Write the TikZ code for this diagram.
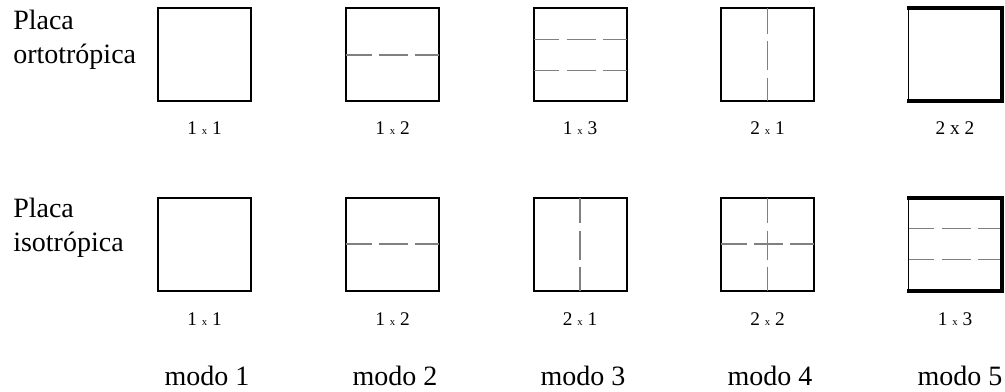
\documentclass[tikz,border=0pt]{standalone}
\usepackage{fontspec}
\setmainfont{Liberation Serif}
\usetikzlibrary{calc}
\newcommand{\xpor}{{\fontsize{8}{8}\selectfont x}}

\begin{document}
\begin{tikzpicture}[x=0.75pt, y=-0.75pt,
  placa/.style = {rectangle, draw=black, line width=1.5pt, minimum size=69.75pt,
                  inner sep=0pt, outer sep=0pt},
  borde/.style = {line width=3pt, line cap=rect},
  nodal/.style = {draw=gray, line width=0.9pt,
                  dash pattern=on 21.75pt off 5.6pt, dash phase=2.6pt},
  etiq/.style  = {font=\fontsize{14.5}{16}\selectfont, anchor=base, inner sep=0pt},
  modo/.style  = {font=\fontsize{21}{25}\selectfont, anchor=base, inner sep=0pt},
  tipo/.style  = {font=\fontsize{21}{25.5}\selectfont, align=left,
                  anchor=north west, inner sep=0pt},
]
\useasboundingbox (0,0) rectangle (1005,392);

% ── Tipo de placa ────────────────────────────────────────────
\node[tipo] (orto) at (13,10)  {Placa\\ortotrópica};
\node[tipo] (iso)  at (13,198) {Placa\\isotrópica};

% ── Placa ortotrópica ────────────────────────────────────────
\node[placa] (o1) at (204.5,55) {};
\node[placa] (o2) at (392.5,55) {};
\node[placa] (o3) at (580,55)   {};
\node[placa] (o4) at (767.5,55) {};
\node[placa,line width=1pt] (o5) at (955,55) {};

\draw[nodal] (o2.west) -- (o2.east);
\draw[nodal] ($(o3.north west)!1/3!(o3.south west)$) -- ($(o3.north east)!1/3!(o3.south east)$);
\draw[nodal] ($(o3.north west)!2/3!(o3.south west)$) -- ($(o3.north east)!2/3!(o3.south east)$);
\draw[nodal] (o4.north) -- (o4.south);
\draw[borde] (o5.north west) -- (o5.north east) -- (o5.south east) -- (o5.south west);

\node[etiq] (eo1) at (204.5,135) {1 \xpor{} 1};
\node[etiq] (eo2) at (392.5,135) {1 \xpor{} 2};
\node[etiq] (eo3) at (580,135)   {1 \xpor{} 3};
\node[etiq] (eo4) at (767.5,135) {2 \xpor{} 1};
\node[etiq] (eo5) at (955,135)   {2 x 2};

% ── Placa isotrópica ─────────────────────────────────────────
\node[placa] (i1) at (204.5,244) {};
\node[placa] (i2) at (392.5,244) {};
\node[placa] (i3) at (580,244)   {};
\node[placa] (i4) at (767.5,244) {};
\node[placa,line width=1pt] (i5) at (955,244) {};

\draw[nodal] (i2.west) -- (i2.east);
\draw[nodal] (i3.north) -- (i3.south);
\draw[nodal] (i4.north) -- (i4.south);
\draw[nodal] (i4.west) -- (i4.east);
\draw[nodal] ($(i5.north west)!1/3!(i5.south west)$) -- ($(i5.north east)!1/3!(i5.south east)$);
\draw[nodal] ($(i5.north west)!2/3!(i5.south west)$) -- ($(i5.north east)!2/3!(i5.south east)$);
\draw[borde] (i5.north west) -- (i5.north east) -- (i5.south east) -- (i5.south west);

\node[etiq] (ei1) at (204.5,325) {1 \xpor{} 1};
\node[etiq] (ei2) at (392.5,325) {1 \xpor{} 2};
\node[etiq] (ei3) at (580,325)   {2 \xpor{} 1};
\node[etiq] (ei4) at (767.5,325) {2 \xpor{} 2};
\node[etiq] (ei5) at (955,325)   {1 \xpor{} 3};

% ── Modos ────────────────────────────────────────────────────
\node[modo] (m1) at (207,385) {modo 1};
\node[modo] (m2) at (395,385) {modo 2};
\node[modo] (m3) at (583,385) {modo 3};
\node[modo] (m4) at (770,385) {modo 4};
\node[modo] (m5) at (960,385) {modo 5};

\end{tikzpicture}
\end{document}
